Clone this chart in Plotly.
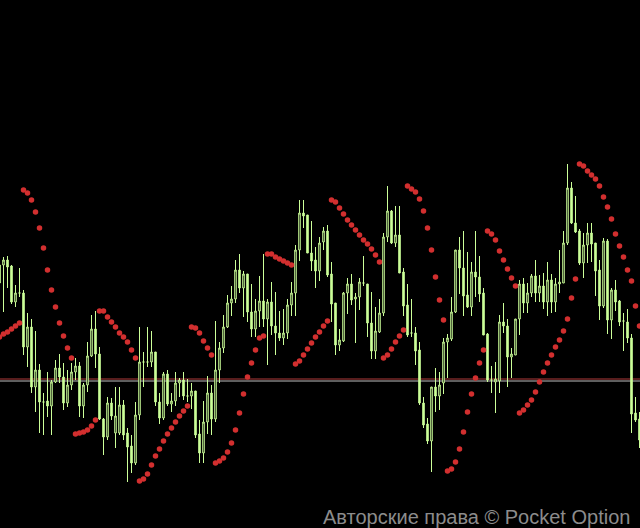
import plotly.graph_objects as go

# Candle data (price points), oldest first
OPEN = [263, 263, 268, 262, 226, 235, 235, 181, 201, 141, 158, 126, 127, 122, 146, 160, 151, 125, 143, 156,
        162, 122, 143, 172, 199, 174, 109, 91, 125, 95, 95, 123, 95, 82, 65, 113, 166, 166, 166, 176,
        126, 110, 154, 124, 127, 145, 148, 132, 132, 137, 94, 75, 106, 135, 109, 158, 180, 201, 225, 229,
        258, 240, 254, 216, 199, 217, 227, 209, 226, 202, 195, 190, 195, 223, 235, 278, 315, 313, 275, 268,
        257, 286, 297, 254, 225, 183, 187, 235, 244, 229, 231, 245, 244, 205, 177, 196, 215, 291, 317, 285,
        293, 256, 223, 195, 195, 178, 125, 104, 87, 141, 132, 145, 186, 189, 216, 278, 260, 233, 221, 256,
        251, 235, 194, 148, 146, 147, 206, 202, 171, 173, 209, 244, 225, 235, 252, 235, 242, 226, 248, 226,
        244, 245, 285, 340, 305, 297, 265, 283, 295, 285, 258, 222, 287, 208, 238, 227, 207, 206, 190, 115,
        109]
HIGH = [266, 271, 272, 263, 243, 260, 238, 215, 209, 197, 164, 135, 156, 148, 168, 174, 165, 158, 165, 170,
        166, 145, 186, 213, 217, 181, 110, 131, 130, 141, 141, 128, 100, 93, 126, 201, 176, 201, 197, 176,
        135, 156, 158, 135, 156, 150, 156, 149, 145, 137, 108, 127, 152, 143, 207, 186, 213, 233, 242, 268,
        274, 257, 254, 244, 229, 252, 274, 229, 246, 236, 217, 219, 229, 246, 283, 328, 328, 313, 307, 281,
        291, 301, 303, 266, 225, 199, 236, 250, 254, 235, 250, 272, 244, 236, 221, 229, 295, 342, 318, 322,
        322, 260, 244, 229, 201, 186, 131, 110, 141, 160, 156, 190, 194, 231, 278, 291, 297, 276, 266, 297,
        272, 240, 195, 162, 166, 213, 225, 209, 180, 209, 248, 250, 245, 254, 268, 253, 255, 266, 254, 250,
        278, 297, 364, 346, 332, 299, 295, 305, 305, 285, 268, 290, 289, 240, 248, 228, 215, 219, 194, 131,
        116]
LOW = [238, 216, 240, 224, 221, 231, 173, 161, 135, 116, 95, 93, 111, 93, 145, 145, 118, 121, 138, 148,
       111, 110, 136, 171, 160, 108, 73, 88, 108, 80, 93, 88, 46, 55, 63, 108, 141, 161, 161, 122,
       104, 108, 122, 116, 122, 131, 128, 126, 119, 90, 65, 65, 94, 93, 106, 145, 175, 200, 212, 225,
       235, 211, 206, 191, 191, 201, 201, 163, 193, 173, 187, 183, 189, 212, 212, 267, 300, 275, 257, 240,
       247, 278, 251, 206, 173, 177, 186, 214, 223, 185, 218, 242, 191, 169, 169, 195, 212, 286, 284, 281,
       255, 212, 191, 191, 163, 123, 100, 84, 56, 116, 118, 134, 150, 187, 215, 234, 212, 220, 212, 231,
       226, 193, 146, 135, 115, 135, 195, 141, 150, 173, 193, 215, 215, 231, 226, 226, 219, 212, 215, 216,
       235, 245, 283, 304, 295, 263, 250, 265, 266, 232, 208, 220, 194, 189, 217, 202, 177, 185, 95, 106,
       80]
CLOSE = [245, 268, 261, 226, 235, 235, 181, 201, 141, 158, 126, 126, 122, 146, 160, 151, 125, 143, 156, 162,
         122, 143, 172, 199, 174, 109, 91, 125, 112, 112, 123, 93, 81, 65, 113, 166, 166, 166, 176, 126,
         110, 154, 124, 127, 145, 148, 132, 132, 137, 93, 75, 106, 135, 109, 158, 180, 201, 225, 229, 258,
         240, 254, 216, 199, 217, 227, 209, 226, 202, 195, 190, 195, 223, 235, 278, 315, 312, 275, 267, 257,
         285, 297, 253, 224, 183, 188, 235, 244, 228, 231, 246, 245, 205, 177, 197, 215, 291, 317, 285, 293,
         255, 222, 193, 195, 177, 125, 103, 87, 141, 132, 143, 186, 190, 216, 278, 260, 232, 221, 256, 251,
         234, 193, 148, 148, 149, 206, 202, 171, 174, 209, 244, 225, 235, 252, 235, 242, 226, 248, 226, 244,
         246, 285, 340, 305, 296, 265, 283, 295, 284, 257, 222, 287, 208, 238, 226, 206, 207, 190, 114, 108,
         88]
# Parabolic SAR values
SAR = [191, 194, 196, 199, 202, 205, 338, 335, 328, 316, 300, 280, 258, 238, 221, 205, 192, 180, 170, 94,
       95, 96, 98, 102, 108, 217, 217, 211, 206, 201, 195, 191, 186, 178, 170, 47, 49, 54, 63, 72,
       79, 87, 94, 100, 106, 112, 117, 122, 201, 200, 195, 187, 180, 173, 65, 67, 70, 76, 85, 98,
       115, 134, 151, 165, 178, 190, 192, 274, 274, 271, 269, 267, 265, 263, 164, 167, 173, 179, 185, 191,
       196, 202, 207, 328, 326, 320, 314, 308, 303, 298, 293, 288, 284, 279, 273, 266, 170, 173, 179, 186,
       192, 198, 342, 339, 336, 329, 317, 300, 278, 251, 228, 208, 57, 59, 66, 79, 96, 116, 134, 150,
       165, 178, 297, 294, 288, 277, 268, 259, 250, 242, 115, 118, 123, 128, 136, 146, 156, 165, 173, 181,
       188, 197, 209, 230, 249, 364, 362, 357, 353, 349, 342, 331, 321, 309, 294, 282, 271, 258, 247, 222,
       202]
LEVELS = [149, 147]
LEVEL_COLORS = ["#b03a3a", "#bdbdbd"]
WATERMARK = "Авторские права © Pocket Option"

X = list(range(len(OPEN)))
GREEN = "#ccff99"

fig = go.Figure()
fig.add_trace(go.Candlestick(
    x=X, open=OPEN, high=HIGH, low=LOW, close=CLOSE,
    increasing=dict(line=dict(color=GREEN, width=1), fillcolor="#000000"),
    decreasing=dict(line=dict(color=GREEN, width=1), fillcolor=GREEN),
    whiskerwidth=0, showlegend=False, hoverinfo="skip",
))
fig.add_trace(go.Scatter(
    x=X, y=SAR, mode="markers",
    marker=dict(color="#d22f2f", size=5.5, line=dict(width=0)),
    showlegend=False, hoverinfo="skip",
))
for lv, col in zip(LEVELS, LEVEL_COLORS):
    fig.add_shape(type="line", xref="paper", x0=0, x1=1, yref="y", y0=lv, y1=lv,
                  line=dict(color=col, width=1), layer="below")

fig.add_annotation(text=WATERMARK, xref="paper", yref="paper", x=0.9875, y=0,
                   xanchor="right", yanchor="bottom", yshift=-2, showarrow=False,
                   font=dict(family="Liberation Sans, Arial", size=20, color="#8c8c8c"))

fig.update_layout(
    width=640, height=528,
    margin=dict(l=0, r=0, t=0, b=0),
    paper_bgcolor="#000000", plot_bgcolor="#000000",
    boxgap=0.45,
    xaxis=dict(range=[0.125, 160.125], visible=False, rangeslider=dict(visible=False),
               showgrid=False, zeroline=False),
    yaxis=dict(range=[0, 528], visible=False, showgrid=False, zeroline=False),
)
fig.write_html("out.html", config={"displayModeBar": False},
               post_script="document.body.style.margin='0';document.body.style.background='#000';"
                           "document.body.style.overflow='hidden';")
